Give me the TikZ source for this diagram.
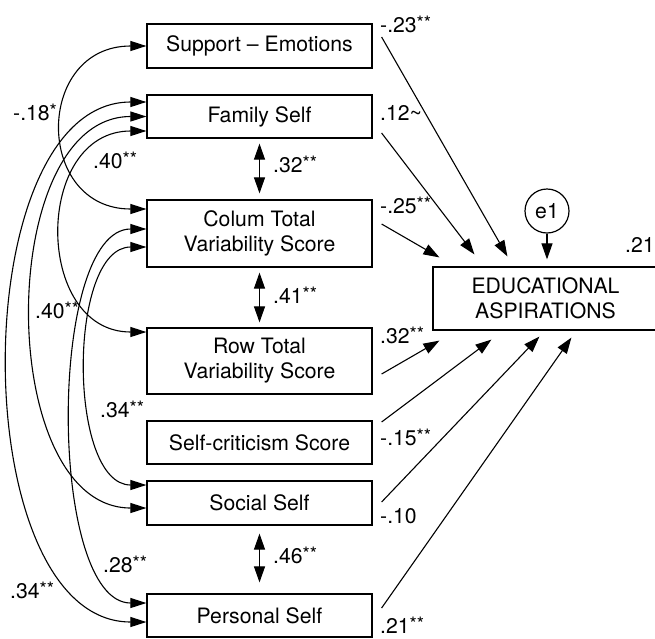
\documentclass[tikz,border=0pt]{standalone}
\usepackage{fontspec}
\setmainfont{TeX Gyre Heros}
\usetikzlibrary{arrows.meta,calc}
\newcommand\sig[1]{\raisebox{2.5pt}{\fontsize{18.5}{16}\selectfont #1}}
\begin{document}
\begin{tikzpicture}[x=1pt,y=-1pt,
  font=\fontsize{21.2}{25}\selectfont,
  box/.style={draw, line width=1.2pt, minimum width=225pt, inner sep=0pt, align=center},
  lab/.style={anchor=base west, inner sep=0pt},
  mytip/.tip={Triangle[length=16pt,width=11pt]},
  covtip/.tip={Triangle[length=16pt,width=10pt]},
  reg/.style={line width=1.1pt, -mytip},
  bi/.style={line width=1.1pt, mytip-mytip},
  cov/.style={line width=1.1pt, covtip-covtip}]
\useasboundingbox (0,0) rectangle (655,638);
% boxes
\node[box, minimum height=44pt] (sup) at (259.5,46) {Support \textendash{} Emotions};
\node[box, minimum height=43pt] (fam) at (259.5,116.5) {Family Self};
\node[box, minimum height=67pt] (col) at (259.5,233.5) {Colum Total\\Variability Score};
\node[box, minimum height=66pt] (row) at (259.5,361) {Row Total\\Variability Score};
\node[box, minimum height=43pt] (crit) at (259.5,442.5) {Self-criticism Score};
\node[box, minimum height=44pt] (soc) at (259.5,503) {Social Self};
\node[box, minimum height=43pt] (per) at (259.5,615.5) {Personal Self};
\node[box, minimum height=63pt] (edu) at (545.5,298.5) {EDUCATIONAL\\ASPIRATIONS};
\node[draw, circle, line width=1.2pt, minimum size=44pt, inner sep=0pt] (e1) at (547,211) {e1};
% start / end coordinates of regressions
\coordinate (s1) at ($(sup.east)+(9,-9)$);
\coordinate (s2) at ($(fam.east)+(9,16.5)$);
\coordinate (s3) at ($(col.east)+(9,-9.5)$);
\coordinate (s4) at ($(row.east)+(9,13)$);
\coordinate (s5) at ($(crit.east)+(9,-20.5)$);
\coordinate (s6) at ($(soc.east)+(9,-1)$);
\coordinate (s7) at ($(per.east)+(9,-7.5)$);
\coordinate (t1) at ($(edu.north west)+(75,-10)$);
\coordinate (t2) at ($(edu.north west)+(42,-12)$);
\coordinate (t3) at ($(edu.north west)+(7,-9)$);
\coordinate (t4) at ($(edu.south west)+(7,10)$);
\coordinate (t5) at ($(edu.south west)+(59,9)$);
\coordinate (t6) at ($(edu.south west)+(107,6)$);
\coordinate (t7) at ($(edu.south west)+(139,7)$);
\draw[reg] (s1) -- (t1);
\draw[reg] (s2) -- (t2);
\draw[reg] (s3) -- (t3);
\draw[reg] (s4) -- (t4);
\draw[reg] (s5) -- (t5);
\draw[reg] (s6) -- (t6);
\draw[reg] (s7) -- (t7);
\draw[reg] (e1.south) -- ($(edu.north)+(1.5,-7)$);
% double arrows
\draw[bi] ($(fam.south)+(0,5)$) -- ($(col.north)+(0,-6)$);
\draw[bi] ($(col.south)+(0,5)$) -- ($(row.north)+(0,-5)$);
\draw[bi] ($(soc.south)+(0,8)$) -- ($(per.north)+(0,-11)$);
% covariance anchors
\coordinate (fa1) at ($(fam.west)+(0,-14.5)$);
\coordinate (fa2) at (fam.west);
\coordinate (fa3) at ($(fam.west)+(0,14.5)$);
\coordinate (co1) at ($(col.west)+(0,-24.5)$);
\coordinate (co2) at ($(col.west)+(0,-4.5)$);
\coordinate (co3) at ($(col.west)+(0,13.5)$);
\coordinate (ro1) at ($(row.west)+(0,-29)$);
\coordinate (so1) at ($(soc.west)+(0,-18)$);
\coordinate (so2) at ($(soc.west)+(0,5)$);
\coordinate (pe1) at ($(per.west)+(0,-12.5)$);
\coordinate (pe2) at ($(per.west)+(0,6.5)$);
\draw[cov] (sup.west) .. controls +(-112,0) and +(-112,0) .. (co1);
\draw[cov] (fa3) .. controls +(-113,0) and +(-113,0) .. (ro1);
\draw[cov] (fa1) .. controls +(-183,0) and +(-183,0) .. (pe2);
\draw[cov] (fa2) .. controls +(-152,0) and +(-152,0) .. (so2);
\draw[cov] (co2) .. controls +(-99,0) and +(-99,0) .. (pe1);
\draw[cov] (co3) .. controls +(-79,0) and +(-79,0) .. (so1);
% labels
\node[lab] (l1) at (380,32) {-.23\sig{**}};
\node[lab] (l2) at (380,120.5) {.12\textasciitilde};
\node[lab] (l3) at (273,172) {.32\sig{**}};
\node[lab] (l4) at (380,213) {-.25\sig{**}};
\node[lab] (l5) at (273,303) {.41\sig{**}};
\node[lab] (l6) at (380,343) {.32\sig{**}};
\node[lab] (l7) at (380,445) {-.15\sig{**}};
\node[lab] (l8) at (380,523) {-.10};
\node[lab] (l9) at (273,563) {.46\sig{**}};
\node[lab] (l10) at (380,633) {.21\sig{**}};
\node[lab] (l11) at (625,252) {.21};
\node[lab] (l12) at (13,120) {-.18\sig{*}};
\node[lab] (l13) at (93,168) {.40\sig{**}};
\node[lab] (l14) at (35,318) {.40\sig{**}};
\node[lab] (l15) at (100,417) {.34\sig{**}};
\node[lab] (l16) at (103,572) {.28\sig{**}};
\node[lab] (l17) at (10,598) {.34\sig{**}};
\end{tikzpicture}
\end{document}
